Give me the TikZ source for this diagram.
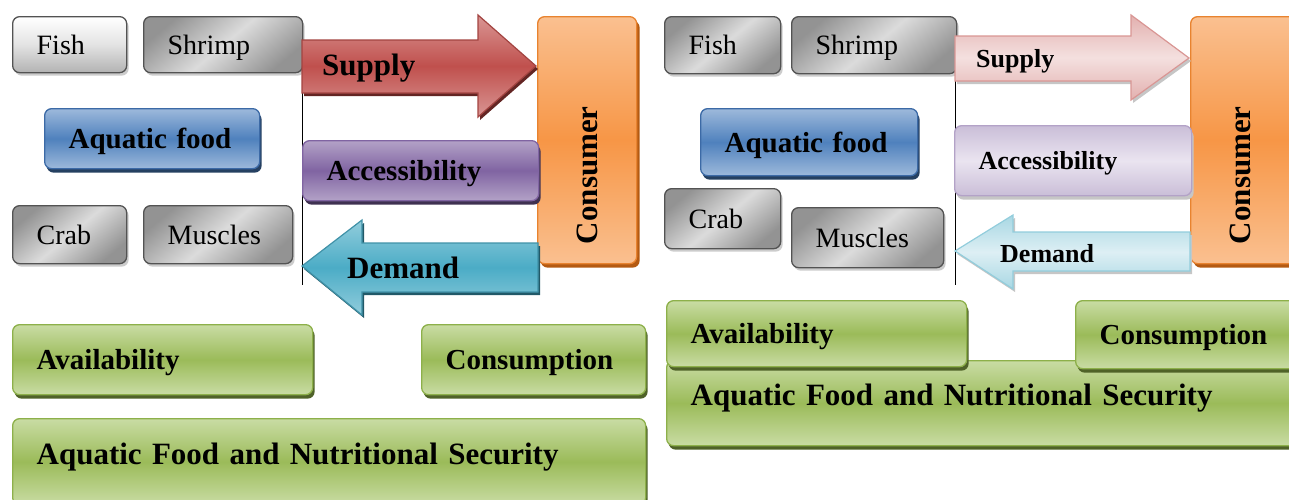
\documentclass[tikz,border=0pt]{standalone}
\usepackage{fontspec}
\setmainfont{Liberation Serif}
\usepackage{graphicx}
\usetikzlibrary{shadows}

\definecolor{grnD}{HTML}{9BBB59}
\definecolor{grnL}{HTML}{C9DCA4}
\definecolor{grnB}{HTML}{8DB04A}
\definecolor{grnS}{HTML}{4F6228}
\definecolor{bluD}{HTML}{4F81BD}
\definecolor{bluL}{HTML}{9DB9DB}
\definecolor{bluB}{HTML}{3C6AA6}
\definecolor{bluS}{HTML}{254061}
\definecolor{purD}{HTML}{8064A2}
\definecolor{purL}{HTML}{B3A2C7}
\definecolor{purS}{HTML}{3F3151}
\definecolor{purP}{HTML}{EAE4F0}
\definecolor{orgD}{HTML}{F79646}
\definecolor{orgL}{HTML}{FAC090}
\definecolor{orgB}{HTML}{E8832F}
\definecolor{orgS}{HTML}{B45A12}
\definecolor{redD}{HTML}{C0504D}
\definecolor{redL}{HTML}{D99694}
\definecolor{redS}{HTML}{632523}
\definecolor{redP}{HTML}{F4E0DF}
\definecolor{cyaD}{HTML}{4BACC6}
\definecolor{cyaL}{HTML}{92CDDC}
\definecolor{cyaS}{HTML}{215968}
\definecolor{cyaP}{HTML}{DDEFF4}

\tikzset{
  box/.style={rounded corners=7pt, line width=1.3pt, inner xsep=24pt, inner ysep=0pt,
    align=left, anchor=north west, text depth=0pt},
  regtxt/.style={font=\fontsize{28}{30}\selectfont},
  boldtxt/.style={font=\fontsize{29}{31}\selectfont\bfseries},
  bigtxt/.style={font=\fontsize{31}{33}\selectfont\bfseries},
  smalltxt/.style={font=\fontsize{26}{28}\selectfont\bfseries},
  graybox/.style={box, regtxt, draw=gray!65!black, top color=gray!85, bottom color=gray!85,
    middle color=gray!28, shading angle=40,
    general shadow={fill=gray!40, shadow xshift=2pt, shadow yshift=-3pt}},
  lightbox/.style={graybox, top color=white, bottom color=gray!60, middle color=gray!22, shading angle=0},
  greenbox/.style={box, draw=grnB, top color=grnL, bottom color=grnL, middle color=grnD,
    general shadow={fill=grnS, shadow xshift=2pt, shadow yshift=-4pt}},
  bluebox/.style={box, boldtxt, draw=bluB, top color=bluL, bottom color=bluL, middle color=bluD,
    general shadow={fill=bluS, shadow xshift=2pt, shadow yshift=-4pt}},
  purplebox/.style={box, draw=purD, top color=purL, bottom color=purL, middle color=purD,
    general shadow={fill=purS, shadow xshift=2pt, shadow yshift=-4pt}},
  palepurple/.style={box, draw=purL, top color=purL!70, bottom color=purL!70, middle color=purP,
    general shadow={fill=gray!45, shadow xshift=2pt, shadow yshift=-4pt}},
  orangebox/.style={box, bigtxt, inner xsep=0pt, align=center, draw=orgB, top color=orgL,
    bottom color=orgL, middle color=orgD,
    general shadow={fill=orgS, shadow xshift=3pt, shadow yshift=-4pt}},
  arrowbody/.style={line width=1.2pt, line join=miter},
}

\newcommand{\upword}[1]{\rotatebox{90}{#1\hspace{70pt}}}

\begin{document}
\begin{tikzpicture}[x=1pt,y=-1pt]
\useasboundingbox (0,0) rectangle (1289,499);

% ---- left panel ----
\node[lightbox, text width=66pt, minimum height=56pt] (fishA) at (12,16) {Fish};
\node[graybox, text width=111pt, minimum height=56pt] (shrimpA) at (143,16) {Shrimp};
\node[bluebox, text width=167pt, minimum height=60pt] (foodA) at (44,108) {Aquatic food};
\node[graybox, text width=66pt, minimum height=58pt] (crabA) at (12,205) {Crab};
\node[graybox, text width=101pt, minimum height=58pt] (musclesA) at (143,205) {Muscles};
\draw[line width=1pt] (302,78) -- (302,285);

\node[orangebox, minimum width=99pt, minimum height=247pt] (consA) at (537,16) {\upword{Consumer}};

\path[arrowbody, draw=redD!85!black, top color=redL, bottom color=redL, middle color=redD,
  general shadow={fill=redS, shadow xshift=2pt, shadow yshift=-3pt}]
  (302,40) -- (478,40) -- (478,15) -- (536,66) -- (478,117) -- (478,93) -- (302,93) -- cycle;
\node[bigtxt, anchor=base west, inner sep=0pt] (supplyA) at (322,75) {Supply};

\node[purplebox, boldtxt, text width=188pt, minimum height=60pt] (accessA) at (302,140) {Accessibility};

\path[arrowbody, draw=cyaD!85!black, top color=cyaL, bottom color=cyaL, middle color=cyaD,
  general shadow={fill=cyaS, shadow xshift=2pt, shadow yshift=-3pt}]
  (302,266) -- (362,220) -- (362,243) -- (538,243) -- (538,292) -- (362,292) -- (362,315) -- cycle;
\node[bigtxt, anchor=base west, inner sep=0pt] (demandA) at (347,278) {Demand};

\node[greenbox, boldtxt, text width=252pt, minimum height=70pt] (availA) at (12,324) {Availability};
\node[greenbox, boldtxt, text width=176pt, minimum height=70pt] (consumA) at (421,324) {Consumption};
\node[greenbox, bigtxt, text width=585pt, minimum height=86pt, text depth=16pt] (securA) at (12,418)
  {Aquatic Food and Nutritional Security};

% ---- right panel ----
\node[graybox, text width=68pt, minimum height=57pt] (fishB) at (664,16) {Fish};
\node[graybox, text width=117pt, minimum height=57pt] (shrimpB) at (791,16) {Shrimp};
\node[bluebox, text width=169pt, minimum height=67pt] (foodB) at (700,108) {Aquatic food};
\node[graybox, text width=68pt, minimum height=60pt] (crabB) at (664,188) {Crab};
\node[graybox, text width=104pt, minimum height=60pt] (musclesB) at (791,207) {Muscles};
\draw[line width=1pt] (955,78) -- (955,285);

\node[orangebox, minimum width=110pt, minimum height=247pt] (consB) at (1190,16)
  {\hspace{-11pt}\upword{Consumer}};

\path[arrowbody, draw=redL, top color=redL!75, bottom color=redL!75, middle color=redP,
  general shadow={fill=gray!45, shadow xshift=2pt, shadow yshift=-3pt}]
  (955,36) -- (1131,36) -- (1131,15) -- (1189,58) -- (1131,100) -- (1131,81) -- (955,81) -- cycle;
\node[smalltxt, anchor=base west, inner sep=0pt] (supplyB) at (976,67) {Supply};

\node[palepurple, smalltxt, text width=189pt, minimum height=70pt] (accessB) at (954,125) {Accessibility};

\path[arrowbody, draw=cyaL, top color=cyaL!80, bottom color=cyaL!80, middle color=cyaP,
  general shadow={fill=gray!45, shadow xshift=2pt, shadow yshift=-3pt}]
  (955,251) -- (1013,215) -- (1013,232) -- (1190,232) -- (1190,271) -- (1013,271) -- (1013,289) -- cycle;
\node[smalltxt, anchor=base west, inner sep=0pt] (demandB) at (1000,262) {Demand};

\node[greenbox, bigtxt, text width=600pt, minimum height=85pt, text depth=16pt] (securB) at (666,360)
  {Aquatic Food and Nutritional Security};
\node[greenbox, boldtxt, text width=252pt, minimum height=66pt] (availB) at (666,300) {Availability};
\node[greenbox, boldtxt, text width=190pt, minimum height=68pt] (consumB) at (1075,300) {Consumption};
\end{tikzpicture}
\end{document}
